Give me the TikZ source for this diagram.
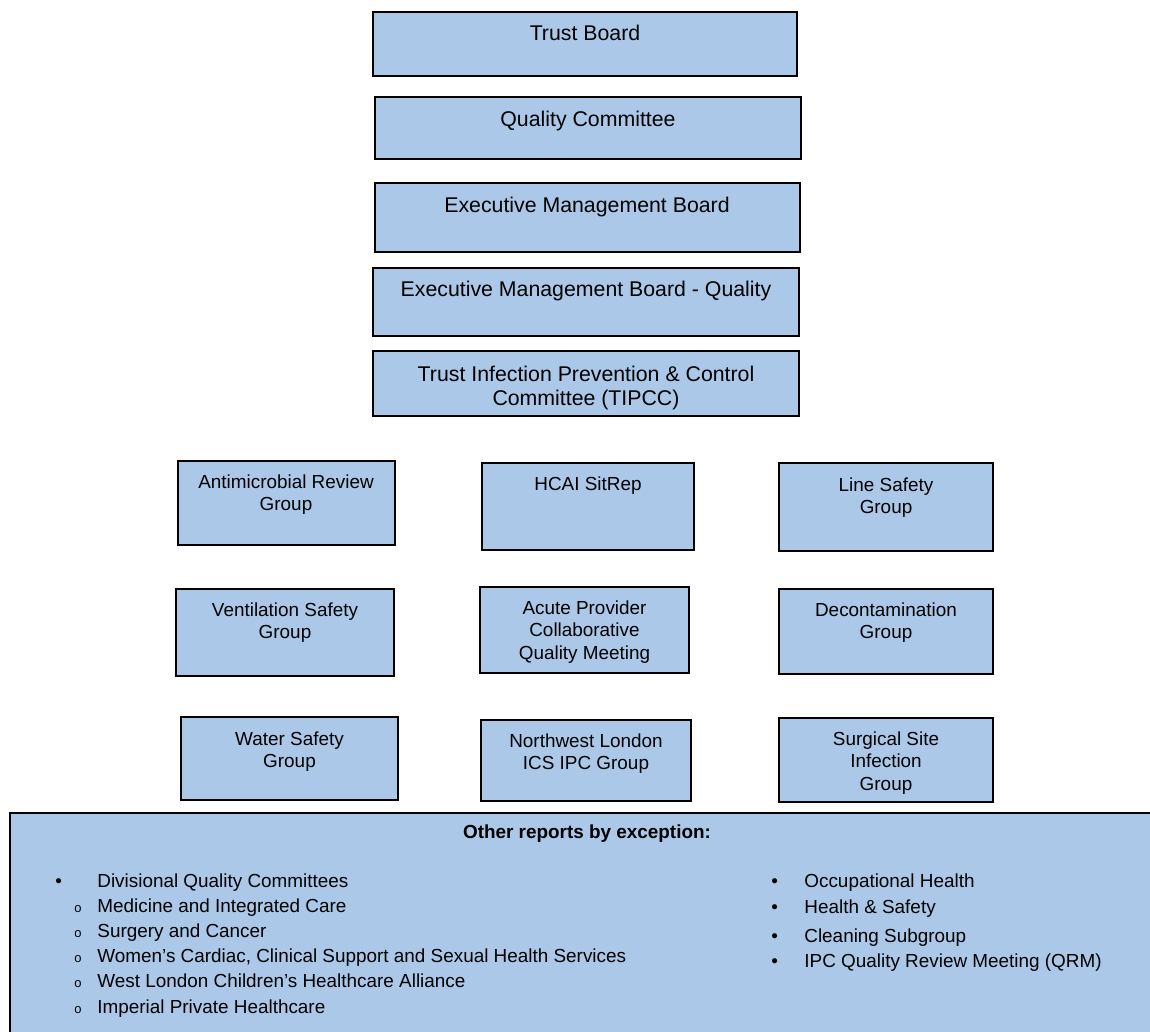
\documentclass[tikz,border=0pt]{standalone}
\usepackage{fontspec}
\setmainfont{Liberation Sans}
\definecolor{boxblue}{RGB}{172,200,232}
\tikzset{
  orgbox/.style={draw=black, line width=1pt, fill=boxblue},
  biglbl/.style={anchor=north, inner sep=0pt, align=center, font=\fontsize{10.65}{12}\selectfont},
  lbl/.style={anchor=north, inner sep=0pt, align=center, font=\fontsize{9.45}{11.4}\selectfont},
  listtxt/.style={anchor=north west, inner sep=0pt, align=left, font=\fontsize{9.45}{12.6}\selectfont},
}
\newcommand{\subitm}{\hspace{9.5pt}\makebox[11.5pt][l]{\fontsize{6.5}{7}\selectfont o}}
\newcommand{\itm}[1]{\makebox[#1][l]{\textbullet}}
\begin{document}
\begin{tikzpicture}[x=0.5pt,y=-0.5pt]
\useasboundingbox (0,0) rectangle (1150,1032);
\clip (0,0) rectangle (1150,1032);
% governance chain
\draw[orgbox] (373,12) rectangle (797,76);
\node[biglbl] (trustboard) at (585,25) {Trust Board};
\draw[orgbox] (375,97) rectangle (801,159);
\node[biglbl] (qualcom) at (588,111) {Quality Committee};
\draw[orgbox] (375,183) rectangle (800,252);
\node[biglbl] (emb) at (587,197) {Executive Management Board};
\draw[orgbox] (373,268) rectangle (799,336);
\node[biglbl] (embq) at (586,281) {Executive Management Board - Quality};
\draw[orgbox] (373,351) rectangle (799,416);
\node[biglbl] (tipcc) at (586,366) {Trust Infection Prevention \& Control\\Committee (TIPCC)};
% groups, first row
\draw[orgbox] (178,461) rectangle (395,545);
\node[lbl] (amr) at (286,474) {Antimicrobial Review\\Group};
\draw[orgbox] (482,463) rectangle (694,550);
\node[lbl] (hcai) at (588,476) {HCAI SitRep};
\draw[orgbox] (779,463) rectangle (993,551);
\node[lbl] (line) at (886,477) {Line Safety\\Group};
% second row
\draw[orgbox] (176,589) rectangle (394,676);
\node[lbl] (vent) at (285,602) {Ventilation Safety\\Group};
\draw[orgbox] (480,587) rectangle (689,673);
\node[lbl] (apc) at (584.5,600) {Acute Provider\\Collaborative\\Quality Meeting};
\draw[orgbox] (779,589) rectangle (993,674);
\node[lbl] (decon) at (886,602) {Decontamination\\Group};
% third row
\draw[orgbox] (181,717) rectangle (398,800);
\node[lbl] (water) at (289.5,731) {Water Safety\\Group};
\draw[orgbox] (481,720) rectangle (691,801);
\node[lbl] (nwl) at (586,733) {Northwest London\\ICS IPC Group};
\draw[orgbox] (779,718) rectangle (993,802);
\node[lbl] (ssi) at (886,731) {Surgical Site\\Infection\\Group};
% exception reports
\draw[orgbox] (10,813) rectangle (1170,1060);
\node[lbl, font=\fontsize{9.45}{11.4}\selectfont\bfseries] (other) at (587,824) {Other reports by exception:};
\node[listtxt] (divlist) at (55,873) {\itm{21pt}Divisional Quality Committees\\
\subitm Medicine and Integrated Care\\
\subitm Surgery and Cancer\\
\subitm Women’s Cardiac, Clinical Support and Sexual Health Services\\
\subitm West London Children’s Healthcare Alliance\\
\subitm Imperial Private Healthcare};
\node[listtxt, font=\fontsize{9.45}{13}\selectfont] (misclist) at (771,873) {\itm{16.5pt}Occupational Health\\
\itm{16.5pt}Health \& Safety\\[1.5pt]
\itm{16.5pt}Cleaning Subgroup\\[-0.5pt]
\itm{16.5pt}IPC Quality Review Meeting (QRM)};
\end{tikzpicture}
\end{document}
